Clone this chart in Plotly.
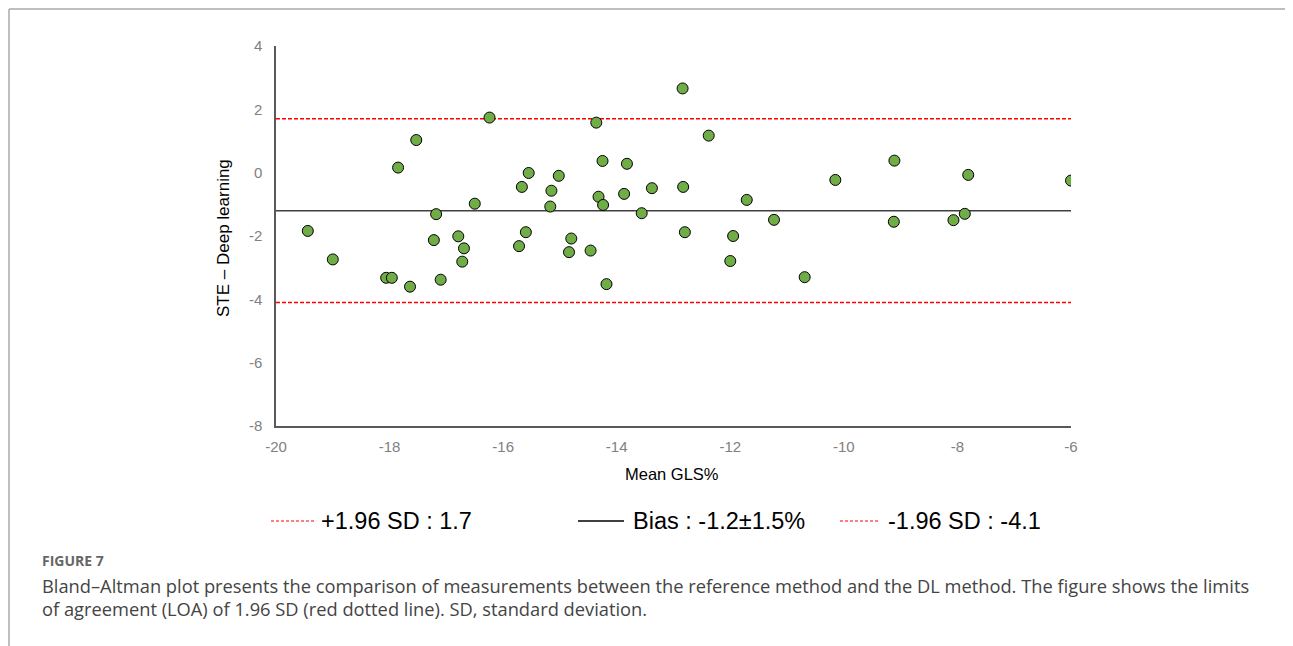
import plotly.graph_objects as go

# Data
mean_gls = [-19.44, -19.00, -18.06, -17.96, -17.85, -17.64, -17.53, -17.18, -17.22, -17.10,
            -16.79, -16.69, -16.72, -16.50, -16.24, -15.72, -15.67, -15.60, -15.55, -15.17,
            -15.15, -15.02, -14.84, -14.80, -14.46, -14.36, -14.32, -14.25, -14.24, -14.18,
            -13.87, -13.82, -13.56, -13.38, -12.84, -12.83, -12.80, -12.38, -12.00, -11.95,
            -11.71, -11.23, -10.69, -10.15, -9.12, -9.11, -8.07, -7.87, -7.81, -6.00]
difference = [-1.84, -2.74, -3.32, -3.32, 0.16, -3.60, 1.03, -1.31, -2.13, -3.38,
              -2.01, -2.39, -2.81, -0.98, 1.74, -2.32, -0.45, -1.88, -0.01, -1.07,
              -0.57, -0.10, -2.51, -2.08, -2.46, 1.58, -0.76, 0.37, -1.02, -3.52,
              -0.67, 0.28, -1.28, -0.49, 2.66, -0.45, -1.88, 1.17, -2.79, -2.00,
              -0.86, -1.49, -3.30, -0.23, -1.55, 0.38, -1.50, -1.30, -0.07, -0.25]

bias = -1.2
upper_loa = 1.7
lower_loa = -4.1
line_x = [-20, -6]

x_ticks = [-20, -18, -16, -14, -12, -10, -8, -6]
y_ticks = [4, 2, 0, -2, -4, -6, -8]

legend_labels = ["+1.96 SD : 1.7", "Bias : -1.2\u00b11.5%", "-1.96 SD : -4.1"]

# page body has an 8px margin: figure occupies window pixels 8..1293, 8..646
OFF = 8
W, H = 1293 - OFF, 646 - OFF
L, R, T, B = 276 - OFF, 1071 - OFF, 46 - OFF, 426 - OFF


def px(x):
    return (x - OFF - L) / (R - L)


def py(y):
    return (B - (y - OFF)) / (B - T)


fig = go.Figure()

fig.add_trace(go.Scatter(x=line_x, y=[upper_loa, upper_loa], mode="lines",
                         line=dict(color="#ff0000", width=1.5, dash="4px,2px"),
                         hoverinfo="skip", showlegend=False))
fig.add_trace(go.Scatter(x=line_x, y=[lower_loa, lower_loa], mode="lines",
                         line=dict(color="#ff0000", width=1.5, dash="4px,2px"),
                         hoverinfo="skip", showlegend=False))
fig.add_trace(go.Scatter(x=line_x, y=[bias, bias], mode="lines",
                         line=dict(color="#404040", width=1.5),
                         hoverinfo="skip", showlegend=False))
fig.add_trace(go.Scatter(x=mean_gls, y=difference, mode="markers",
                         marker=dict(size=11, color="#70ad47",
                                     line=dict(color="#000000", width=1)),
                         showlegend=False))

shapes = []
# legend line samples
shapes.append(dict(type="line", xref="paper", yref="paper", x0=px(271), x1=px(314),
                   y0=py(521), y1=py(521), line=dict(color="#ff0000", width=1.2, dash="3px,2px")))
shapes.append(dict(type="line", xref="paper", yref="paper", x0=px(578), x1=px(624),
                   y0=py(521), y1=py(521), line=dict(color="#000000", width=1.5)))
shapes.append(dict(type="line", xref="paper", yref="paper", x0=px(840), x1=px(880),
                   y0=py(521), y1=py(521), line=dict(color="#ff0000", width=1.2, dash="3px,2px")))
# page frame
frame_col = "#a8a8a8"
shapes.append(dict(type="line", xref="paper", yref="paper", x0=px(9), x1=px(1286),
                   y0=py(9), y1=py(9), line=dict(color=frame_col, width=1.5)))
shapes.append(dict(type="line", xref="paper", yref="paper", x0=px(9), x1=px(9),
                   y0=py(9), y1=py(646), line=dict(color=frame_col, width=1.5)))
shapes.append(dict(type="line", xref="paper", yref="paper", x0=px(1286), x1=px(1286),
                   y0=py(9), y1=py(646), line=dict(color=frame_col, width=1.5)))

font_main = "Liberation Sans, Arial, sans-serif"
annotations = []
for label, x0 in zip(legend_labels, [319, 631, 886]):
    annotations.append(dict(text=label, xref="paper", yref="paper", x=px(x0), y=py(521),
                            xanchor="left", yanchor="middle", showarrow=False,
                            font=dict(family=font_main, size=23.5, color="#000000")))
annotations.append(dict(text="STE \u2013 Deep learning", xref="paper", yref="paper",
                        x=px(223), y=py(238), textangle=-90, xanchor="center", yanchor="middle",
                        showarrow=False, font=dict(family=font_main, size=17, color="#000000")))
annotations.append(dict(text="Mean GLS%", xref="paper", yref="paper",
                        x=px(672), y=py(474), xanchor="center", yanchor="middle",
                        showarrow=False, font=dict(family=font_main, size=16.5, color="#000000")))
cap_font = "Open Sans, Noto Sans, sans-serif"
annotations.append(dict(text="<b>FIGURE 7</b>", xref="paper", yref="paper",
                        x=px(40), y=py(560), xanchor="left", yanchor="middle",
                        showarrow=False, font=dict(family=cap_font, size=14, color="#666666")))
annotations.append(dict(text="Bland\u2013Altman plot presents the comparison of measurements between the reference method and the DL method. The figure shows the limits",
                        xref="paper", yref="paper", x=px(40), y=py(585), xanchor="left", yanchor="middle",
                        showarrow=False, font=dict(family=cap_font, size=18.3, color="#444444")))
annotations.append(dict(text="of agreement (LOA) of 1.96 SD (red dotted line). SD, standard deviation.",
                        xref="paper", yref="paper", x=px(40), y=py(608), xanchor="left", yanchor="middle",
                        showarrow=False, font=dict(family=cap_font, size=18.3, color="#444444")))

fig.update_layout(
    width=W, height=H,
    margin=dict(l=L, r=W - R, t=T, b=H - B, pad=0),
    paper_bgcolor="#ffffff", plot_bgcolor="#ffffff",
    showlegend=False,
    shapes=shapes, annotations=annotations,
    xaxis=dict(range=[-20, -6], tickvals=x_ticks, ticktext=[str(v) for v in x_ticks],
               showgrid=False, zeroline=False, showline=True, linecolor="#595959", linewidth=1.5,
               ticks="", ticklabelstandoff=6,
               tickfont=dict(family=font_main, size=15, color="#808080")),
    yaxis=dict(range=[-8, 4], tickvals=y_ticks, ticktext=[str(v) for v in y_ticks],
               showgrid=False, zeroline=False, showline=True, linecolor="#595959", linewidth=1.5,
               ticks="", ticklabelstandoff=9,
               tickfont=dict(family=font_main, size=15, color="#808080")),
)

fig.write_html("out.html")
